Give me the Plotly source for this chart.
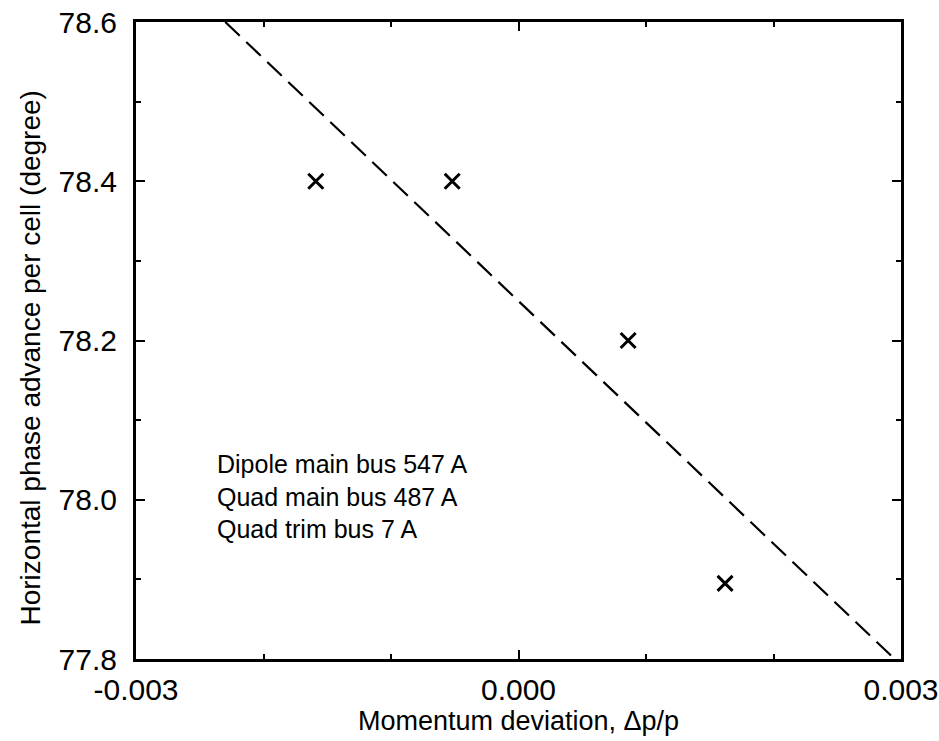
import plotly.graph_objects as go

# Measured phase advance versus momentum deviation
dp_over_p = [-0.00159, -0.00052, 0.00086, 0.00162]
phase_adv = [78.40, 78.40, 78.20, 77.895]

# Linear fit drawn across the plotting window
fit_x = [-0.0023, 0.00295]
fit_y = [78.60, 77.80]

x_tickvals = [-0.003, 0.000, 0.003]
x_ticktext = ["-0.003", "0.000", "0.003"]
y_tickvals = [77.8, 78.0, 78.2, 78.4, 78.6]
y_ticktext = ["77.8", "78.0", "78.2", "78.4", "78.6"]

bus_settings = ["Dipole main bus 547 A", "Quad main bus 487 A", "Quad trim bus 7 A"]

FONT = "Liberation Sans, Arial, Helvetica, sans-serif"

fig = go.Figure()

fig.add_trace(go.Scatter(
    x=fit_x, y=fit_y, mode="lines",
    line=dict(color="black", width=2.2, dash="20px,9px"),
    showlegend=False, hoverinfo="skip",
))

fig.add_trace(go.Scatter(
    x=dp_over_p, y=phase_adv, mode="markers",
    marker=dict(symbol="x-thin", size=15, color="black",
                line=dict(color="black", width=3)),
    showlegend=False,
))

fig.add_annotation(
    x=-0.00238, y=78.004, xref="x", yref="y",
    text="<br>".join(bus_settings),
    showarrow=False, xanchor="left", yanchor="middle", align="left",
    font=dict(family=FONT, size=25, color="black"),
)

# Vertical axis title, placed by hand
fig.add_annotation(
    xref="paper", yref="paper", x=0, y=0.5, xshift=-106, yshift=-18,
    text="Horizontal phase advance per cell (degree)", textangle=-90,
    showarrow=False, xanchor="center", yanchor="middle",
    font=dict(family=FONT, size=28, color="black"),
)

axis_common = dict(
    showline=True, linecolor="black", linewidth=3,
    mirror="allticks", ticks="inside", tickcolor="black",
    ticklen=9, tickwidth=1.5, showgrid=False, zeroline=False,
    automargin=False,
    tickfont=dict(family=FONT, size=30, color="black"),
)

fig.update_layout(
    width=939, height=741,
    margin=dict(l=136, r=38, t=22, b=82),
    paper_bgcolor="white", plot_bgcolor="white",
    xaxis=dict(
        range=[-0.003, 0.003], tickvals=x_tickvals, ticktext=x_ticktext,
        minor=dict(dtick=0.001, ticks="inside", ticklen=5, tickcolor="black", tickwidth=1.5),
        title=dict(text="Momentum deviation, Δp/p", standoff=6,
                   font=dict(family=FONT, size=27, color="black")),
        ticklabelstandoff=2,
        **axis_common,
    ),
    yaxis=dict(
        range=[77.8, 78.6], tickvals=y_tickvals, ticktext=y_ticktext,
        minor=dict(dtick=0.1, ticks="inside", ticklen=5, tickcolor="black", tickwidth=1.5),
        ticklabelstandoff=10,
        **axis_common,
    ),
)

fig.write_html("out.html")
